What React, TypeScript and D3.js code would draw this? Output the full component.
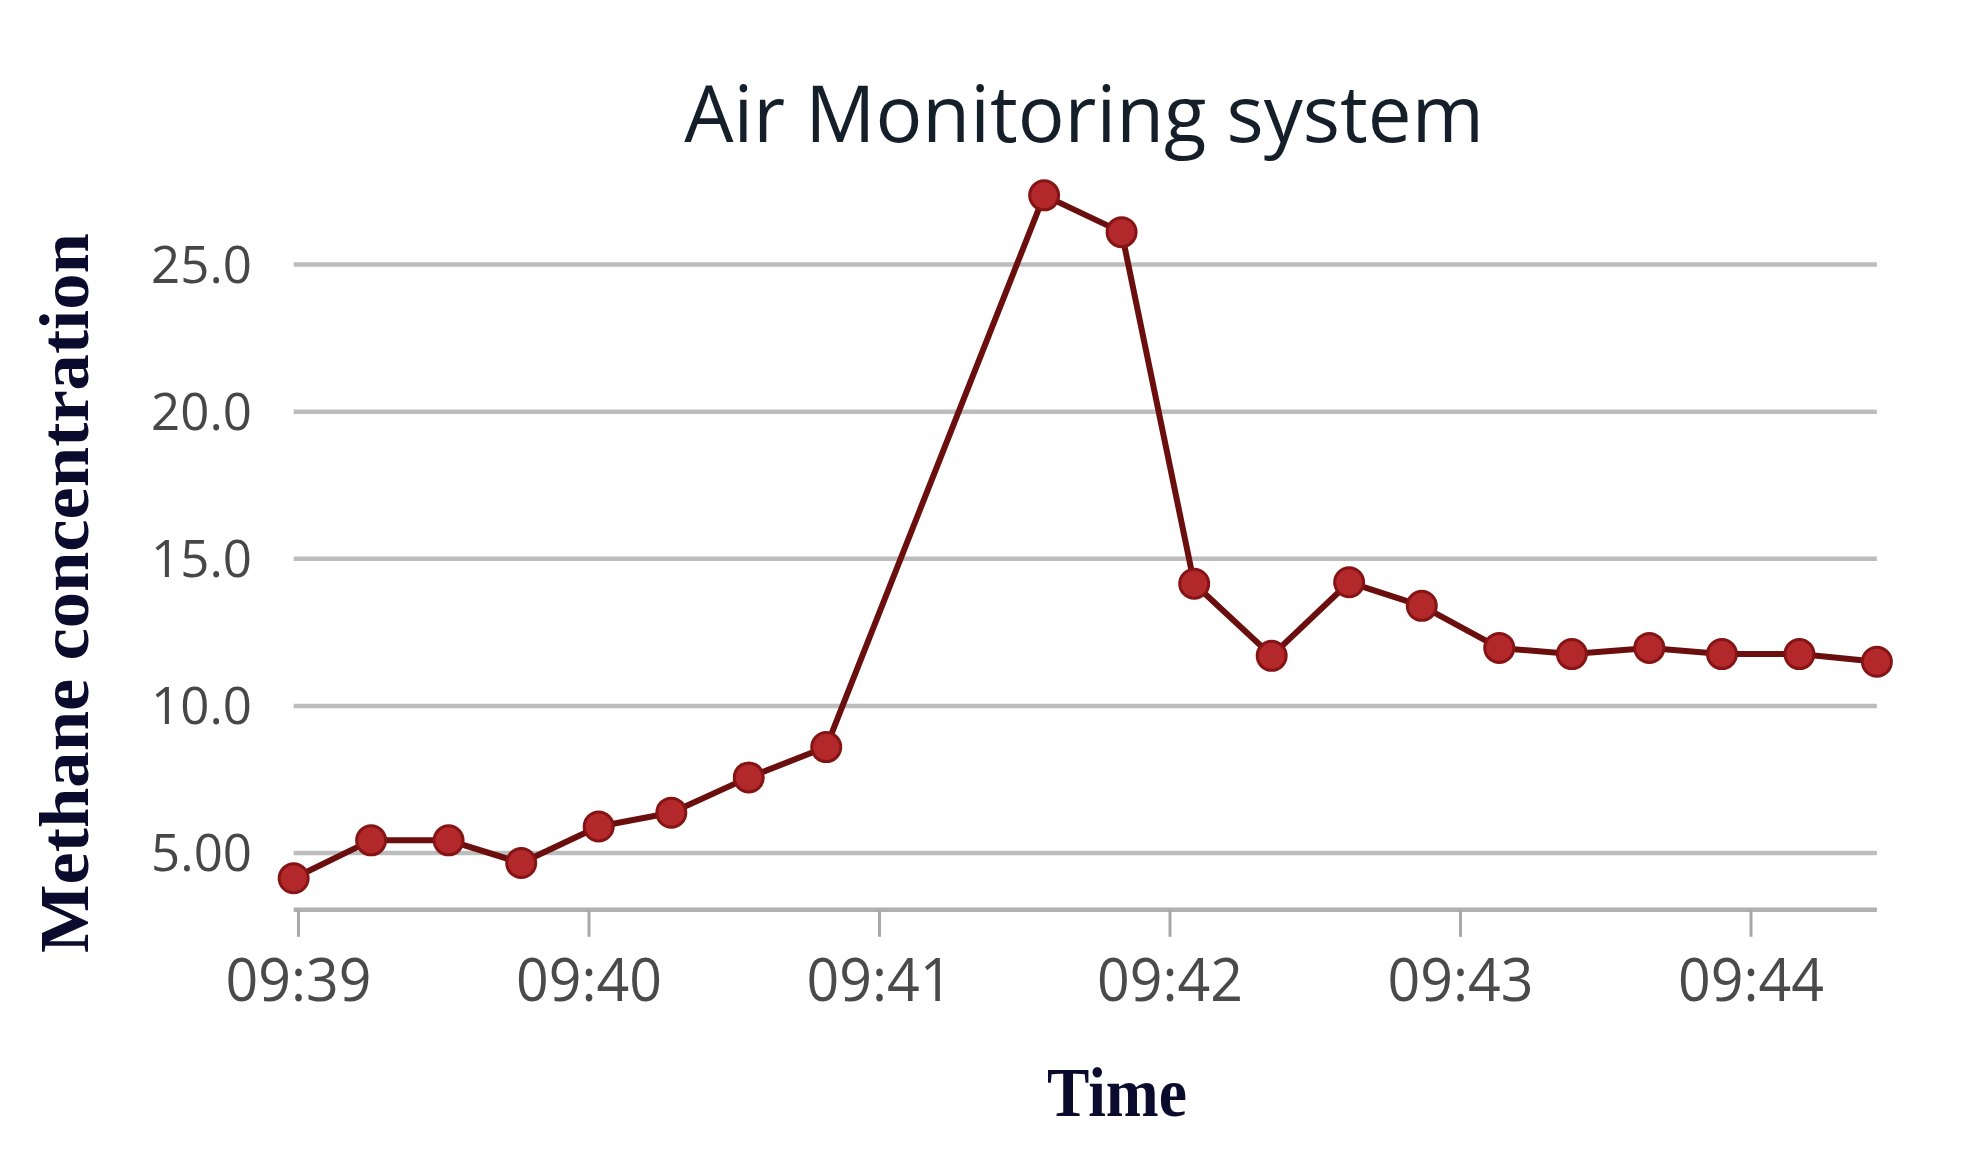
import React, { useRef, useEffect } from "react";
import * as d3 from "d3";

// readings, hh:mm:ss
const times = [
  "09:38:59", "09:39:15", "09:39:31", "09:39:46", "09:40:02", "09:40:17",
  "09:40:33", "09:40:49", "09:41:34", "09:41:50", "09:42:05", "09:42:21",
  "09:42:37", "09:42:52", "09:43:08", "09:43:23", "09:43:39", "09:43:54",
  "09:44:10", "09:44:26",
];
const methane = [
  4.14, 5.43, 5.43, 4.66, 5.9, 6.37, 7.57, 8.6, 27.35, 26.1, 14.15, 11.7,
  14.2, 13.4, 11.97, 11.76, 11.97, 11.76, 11.76, 11.5,
];
const yTicks = [5, 10, 15, 20, 25];
const xTicks = ["09:39", "09:40", "09:41", "09:42", "09:43", "09:44"];

const W = 1975;
const H = 1149;

const parse = (s: string) => {
  const [h, m, sec] = s.split(":").map(Number);
  return new Date(2020, 0, 1, h, m, sec || 0);
};

export default function App() {
  const ref = useRef<SVGSVGElement>(null);

  useEffect(() => {
    const svg = d3.select(ref.current);
    svg.selectAll("*").remove();

    const data = times.map((t, i) => ({ t: parse(t), v: methane[i] }));

    const x = d3
      .scaleTime()
      .domain([parse("09:39"), parse("09:44")])
      .range([298.5, 1751]);

    const y = d3.scaleLinear().domain([5, 25]).range([853, 264.5]);
    const yBase = y(3.07);

    const x0 = x(data[0].t);
    const x1 = x(data[data.length - 1].t);

    // gridlines
    svg
      .append("g")
      .selectAll("line")
      .data(yTicks)
      .enter()
      .append("line")
      .attr("x1", x0)
      .attr("x2", x1)
      .attr("y1", (d) => y(d))
      .attr("y2", (d) => y(d))
      .attr("stroke", "#bdbdbd")
      .attr("stroke-width", 4.5);

    // y labels
    svg
      .append("g")
      .selectAll("text")
      .data(yTicks)
      .enter()
      .append("text")
      .attr("x", 252)
      .attr("y", (d) => y(d))
      .attr("dy", "0.36em")
      .attr("text-anchor", "end")
      .attr("font-family", "'Open Sans', sans-serif")
      .attr("font-weight", 500)
      .attr("font-size", 51)
      .attr("fill", "#474747")
      .text((d) => (d < 10 ? d3.format(".2f")(d) : d3.format(".1f")(d)));

    // x axis
    svg
      .append("line")
      .attr("x1", x0)
      .attr("x2", x1)
      .attr("y1", yBase)
      .attr("y2", yBase)
      .attr("stroke", "#b0b0b0")
      .attr("stroke-width", 4.5);

    const xt = svg
      .append("g")
      .selectAll("g")
      .data(xTicks)
      .enter()
      .append("g")
      .attr("transform", (d) => `translate(${x(parse(d))},0)`);

    xt.append("line")
      .attr("y1", yBase)
      .attr("y2", yBase + 27)
      .attr("stroke", "#a8a8a8")
      .attr("stroke-width", 3);

    xt.append("text")
      .attr("y", 1001)
      .attr("text-anchor", "middle")
      .attr("font-family", "'Open Sans', sans-serif")
      .attr("font-size", 60)
      .attr("fill", "#4a4a4a")
      .attr("textLength", 146)
      .attr("lengthAdjust", "spacingAndGlyphs")
      .text((d) => d);

    // line
    const line = d3
      .line<{ t: Date; v: number }>()
      .x((d) => x(d.t))
      .y((d) => y(d.v));

    svg
      .append("path")
      .datum(data)
      .attr("d", line)
      .attr("fill", "none")
      .attr("stroke", "#6a0e0e")
      .attr("stroke-width", 6)
      .attr("stroke-linejoin", "round");

    svg
      .append("g")
      .selectAll("circle")
      .data(data)
      .enter()
      .append("circle")
      .attr("cx", (d) => x(d.t))
      .attr("cy", (d) => y(d.v))
      .attr("r", 14.5)
      .attr("fill", "#b3282a")
      .attr("stroke", "#861414")
      .attr("stroke-width", 3);

    // title
    svg
      .append("text")
      .attr("x", 1084)
      .attr("y", 142)
      .attr("text-anchor", "middle")
      .attr("font-family", "'Open Sans', sans-serif")
      .attr("font-size", 78)
      .attr("fill", "#141f2a")
      .text("Air Monitoring system");

    // axis titles
    svg
      .append("text")
      .attr("transform", "translate(88,593) rotate(-90)")
      .attr("text-anchor", "middle")
      .attr("font-family", "'Liberation Serif', 'Times New Roman', serif")
      .attr("font-weight", "bold")
      .attr("font-size", 70)
      .attr("fill", "#0b0b2e")
      .attr("textLength", 720)
      .attr("lengthAdjust", "spacingAndGlyphs")
      .text("Methane concentration");

    svg
      .append("text")
      .attr("x", 1117)
      .attr("y", 1116)
      .attr("text-anchor", "middle")
      .attr("font-family", "'Liberation Serif', 'Times New Roman', serif")
      .attr("font-weight", "bold")
      .attr("font-size", 70)
      .attr("fill", "#0b0b2e")
      .attr("textLength", 140)
      .attr("lengthAdjust", "spacingAndGlyphs")
      .text("Time");
  }, []);

  return (
    <svg
      ref={ref}
      width={W}
      height={H}
      style={{ position: "absolute", left: 0, top: 0, background: "#fff" }}
    />
  );
}
